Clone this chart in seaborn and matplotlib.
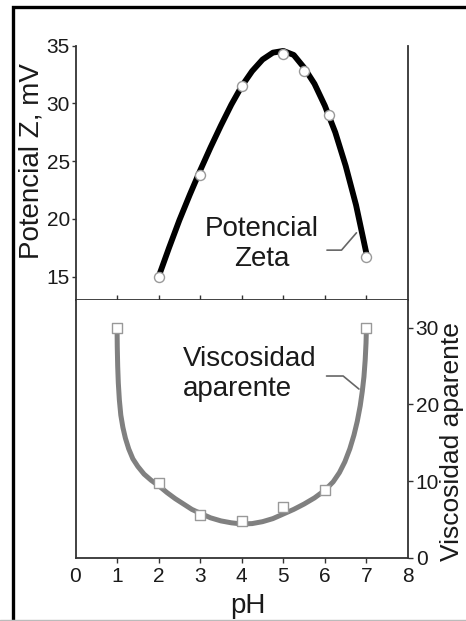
import numpy as np
import pandas as pd
import seaborn as sns
import matplotlib.pyplot as plt
from matplotlib.patches import Rectangle
from matplotlib.lines import Line2D

# measured points
zeta_ph = [2, 3, 4, 5, 5.5, 6.1, 7]
zeta_mv = [15.0, 23.8, 31.5, 34.3, 32.8, 29.0, 16.7]
visc_ph = [1, 2, 3, 4, 5, 6, 7]
visc_val = [30.0, 9.8, 5.6, 4.8, 6.6, 8.8, 30.0]

# smooth curves
zeta_curve_ph = [2.0, 2.25, 2.5, 2.75, 3.0, 3.25, 3.5, 3.75, 4.0, 4.25, 4.5, 4.75, 5.0,
                 5.25, 5.5, 5.75, 6.0, 6.25, 6.5, 6.75, 7.0]
zeta_curve_mv = [15.0, 17.5, 19.9, 22.1, 24.2, 26.2, 28.1, 29.9, 31.5, 32.8, 33.8, 34.4, 34.55,
                 34.2, 33.1, 31.7, 29.8, 27.5, 24.6, 21.2, 17.0]
visc_curve_ph = [1.0, 1.005, 1.015, 1.03, 1.055, 1.09, 1.14, 1.2, 1.28, 1.38, 1.5, 1.65, 1.82,
                 2.0, 2.2, 2.4, 2.6, 2.8, 3.0, 3.25, 3.5, 3.75, 4.0, 4.25, 4.5, 4.75, 5.0,
                 5.25, 5.5, 5.75, 6.0, 6.2, 6.35, 6.48, 6.6, 6.7, 6.78, 6.85, 6.9, 6.94,
                 6.97, 6.99, 7.0]
visc_curve_val = [30.0, 27.5, 25.0, 22.8, 20.6, 18.6, 17.0, 15.6, 14.2, 12.9, 11.9, 10.9, 10.1,
                  9.4, 8.5, 7.7, 7.0, 6.3, 5.8, 5.2, 4.8, 4.55, 4.4, 4.45, 4.7, 5.1, 5.7,
                  6.3, 7.0, 7.8, 8.8, 9.9, 11.1, 12.5, 14.2, 16.0, 17.8, 19.8, 21.7, 23.6,
                  25.8, 28.0, 30.0]

xtick_vals = [0, 1, 2, 3, 4, 5, 6, 7, 8]
zeta_ticks = [15, 20, 25, 30, 35]
visc_ticks = [0, 10, 20, 30]

sns.set_theme(style="white")
plt.rcParams['font.family'] = ['Liberation Sans', 'DejaVu Sans']
txt_col = "#1a1a1a"
spine_col = "#333333"

W, H = 466, 621
fig = plt.figure(figsize=(W / 100, H / 100), dpi=100)
ax_top = fig.add_axes([75.5 / W, 1 - 300.5 / H, (408 - 75.5) / W, (300.5 - 45.7) / H])
ax_bot = fig.add_axes([75.5 / W, 1 - 557.7 / H, (408 - 75.5) / W, (557.7 - 300.5) / H])

# top panel: zeta potential
sns.lineplot(x=zeta_curve_ph, y=zeta_curve_mv, ax=ax_top, color="black", lw=4.2, estimator=None,
             solid_joinstyle="round", solid_capstyle="butt")
sns.scatterplot(x=zeta_ph, y=zeta_mv, ax=ax_top, marker="o", s=52, color="white",
                edgecolor="#999999", linewidth=1, zorder=5)
ax_top.set_xlim(0, 8)
ax_top.set_ylim(12.94, 35)
ax_top.set_xticks(xtick_vals[1:-1])
ax_top.set_xticklabels([])
ax_top.set_yticks(zeta_ticks)
ax_top.tick_params(axis="x", direction="in", length=3.5, width=1, color=spine_col, bottom=True)
ax_top.tick_params(axis="y", direction="out", length=3, width=1, color=spine_col, left=True,
                   labelsize=15, labelcolor=txt_col, pad=1)
ax_top.spines['top'].set_visible(False)
for s in ['left', 'right', 'bottom']:
    ax_top.spines[s].set_color(spine_col)
    ax_top.spines[s].set_linewidth(1.3)
ax_top.text(4.48, 17.83, "Potencial\nZeta", ha="center", va="center", multialignment="center",
            fontsize=20, color=txt_col)
ax_top.plot([6.05, 6.40, 6.76], [17.3, 17.3, 18.8], color="#666666", lw=1.2)

# bottom panel: apparent viscosity
sns.lineplot(x=visc_curve_ph, y=visc_curve_val, ax=ax_bot, color="#808080", lw=3.6, estimator=None,
             solid_joinstyle="round", solid_capstyle="butt")
sns.scatterplot(x=visc_ph, y=visc_val, ax=ax_bot, marker="s", s=62, color="white",
                edgecolor="#999999", linewidth=1, zorder=5)
ax_bot.set_xlim(0, 8)
ax_bot.set_ylim(0, 33.55)
ax_bot.set_xticks(xtick_vals)
ax_bot.set_xticklabels([str(v) for v in xtick_vals])
ax_bot.yaxis.tick_right()
ax_bot.set_yticks(visc_ticks)
ax_bot.tick_params(axis="x", direction="out", length=3.5, width=1, color=spine_col, bottom=True,
                   labelsize=15, labelcolor=txt_col, pad=3)
ax_bot.tick_params(axis="y", direction="out", length=3.5, width=1, color=spine_col, right=True,
                   left=False, labelsize=15, labelcolor=txt_col, pad=2)
ticks = ax_bot.xaxis.get_major_ticks()
ticks[0].tick1line.set_visible(False)
ticks[-1].tick1line.set_visible(False)
ax_bot.spines['top'].set_visible(False)
for s in ['left', 'right', 'bottom']:
    ax_bot.spines[s].set_color(spine_col)
    ax_bot.spines[s].set_linewidth(1.3)
ax_bot.text(2.58, 23.96, "Viscosidad\naparente", ha="left", va="center", fontsize=20, color=txt_col)
ax_bot.plot([6.04, 6.44, 6.82], [23.7, 23.7, 22.0], color="#666666", lw=1.2)

for ax in (ax_top, ax_bot):
    ax.set_xlabel("")
    ax.set_ylabel("")

# axis titles
fig.text(19 / W, 1 - 161.5 / H, "Potencial Z, mV", rotation=90, ha="left", va="center",
         fontsize=20, color=txt_col)
fig.text(440 / W, 1 - 442 / H, "Viscosidad aparente", rotation=90, ha="left", va="center",
         fontsize=19, color=txt_col)
fig.text(248 / W, 1 - 613 / H, "pH", ha="center", va="baseline", fontsize=20, color=txt_col)

# outer frame
fig.patches.append(Rectangle((12.5 / W, -0.1), 1.2, 1 - 6.5 / H + 0.1, transform=fig.transFigure,
                             fill=False, edgecolor="black", lw=2.4))
fig.lines.append(Line2D([0, 1], [1 - 619.5 / H] * 2, transform=fig.transFigure,
                        color="#bbbbbb", lw=1))

fig.savefig("out.png", dpi=100)
